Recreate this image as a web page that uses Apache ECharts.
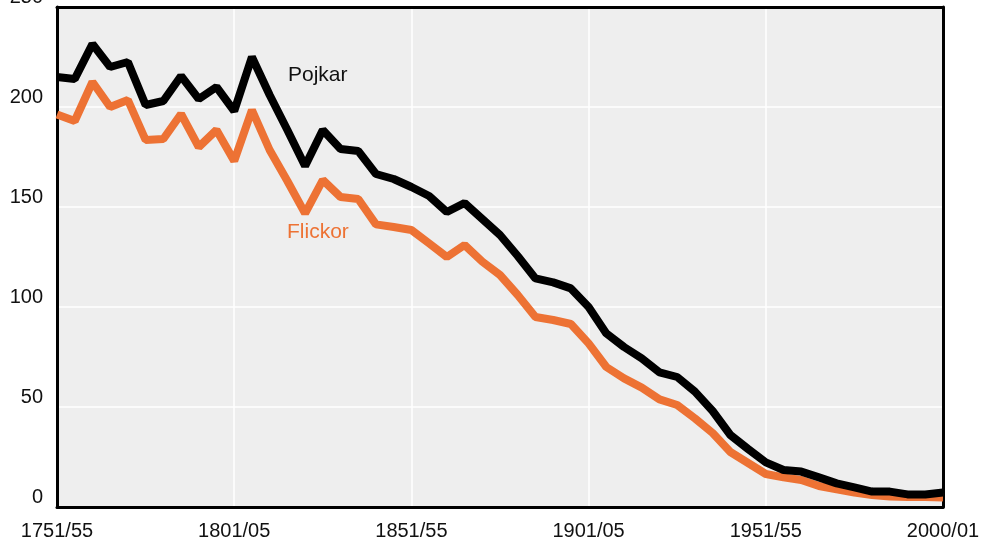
<!DOCTYPE html>
<html>
<head>
<meta charset="utf-8">
<script src="https://cdn.jsdelivr.net/npm/echarts@6/dist/echarts.min.js"></script>
<style>
  html, body { margin: 0; padding: 0; background: #fff; }
  #main { width: 981px; height: 541px; }
</style>
</head>
<body>
<div id="main"></div>
<script>
// 5-årsperioder 1751/55 ... 1996/00, sista punkten 2000/01
var periods = [];
for (var y = 1751; y <= 1996; y += 5) {
  periods.push(y + '/' + String(y + 4).slice(2));
}
periods.push('2000/01');

var pojkar = [215, 214, 231.5, 220, 222.5, 201, 203, 215.5, 204, 210,
  198, 225, 206, 188.5, 170.5, 188.5, 179, 178, 166.5, 164,
  160, 155.5, 147.5, 152, 144, 136, 125.5, 114.3, 112.3, 109.3,
  100, 86.8, 80, 74.3, 67.3, 65, 57.7, 48, 36, 29,
  22.3, 18.5, 17.7, 14.8, 11.8, 9.8, 7.7, 7.7, 6.3, 6.3, 7.2];

var flickor = [196.3, 193, 212.5, 200, 203.5, 183.5, 184, 196.5, 180, 188.5,
  173, 198.5, 178.5, 163, 146.8, 163.5, 155, 154, 141.3, 140,
  138.5, 131.8, 125, 131, 122.7, 116, 106, 95, 93.5, 91.5,
  81.8, 70, 64.3, 59.7, 53.8, 51, 44.3, 37, 27.5, 22,
  16.5, 14.8, 13.5, 10.5, 8.8, 7.2, 6, 5.2, 5, 5, 4.8];

var orange = '#ED7234';
var font = 'Liberation Sans, Arial, sans-serif';
var chart = echarts.init(document.getElementById('main'));

var frame = { show: true, onZero: false, lineStyle: { color: '#000', width: 3 } };

chart.setOption({
  animation: false,
  textStyle: { fontFamily: font },
  grid: {
    left: 57, right: 38, top: 7, bottom: 34,
    outerBoundsMode: 'none',
    containLabel: false,
    show: true,
    backgroundColor: '#EEEEEE',
    borderWidth: 0
  },
  xAxis: [
    {
      type: 'category',
      data: periods,
      boundaryGap: false,
      axisLine: frame,
      axisTick: { show: false },
      axisLabel: { interval: 9, color: '#111', fontSize: 20, margin: 14 },
      splitLine: { show: true, interval: 9, lineStyle: { color: '#fff', width: 1.5 } }
    },
    {
      type: 'category', position: 'top', data: periods, boundaryGap: false,
      axisLine: frame, axisTick: { show: false }, axisLabel: { show: false }, splitLine: { show: false }
    }
  ],
  yAxis: [
    {
      type: 'value',
      min: 0, max: 250, interval: 50,
      axisLine: frame,
      axisTick: { show: false },
      axisLabel: { color: '#111', fontSize: 20, margin: 14, verticalAlign: 'bottom' },
      splitLine: { lineStyle: { color: '#fff', width: 1.5 } }
    },
    {
      type: 'value', position: 'right', min: 0, max: 250, interval: 50,
      axisLine: frame, axisTick: { show: false }, axisLabel: { show: false }, splitLine: { show: false }
    }
  ],
  series: [
    {
      name: 'Flickor', type: 'line', data: flickor,
      symbol: 'none', lineStyle: { color: orange, width: 8 }, z: 2
    },
    {
      name: 'Pojkar', type: 'line', data: pojkar,
      symbol: 'none', lineStyle: { color: '#000', width: 8 }, z: 3
    }
  ],
  graphic: [
    { type: 'text', left: 288, top: 65, style: { text: 'Pojkar', fill: '#111', font: '21px ' + font } },
    { type: 'text', left: 287, top: 222, style: { text: 'Flickor', fill: orange, font: '21px ' + font } }
  ]
});
</script>
</body>
</html>
